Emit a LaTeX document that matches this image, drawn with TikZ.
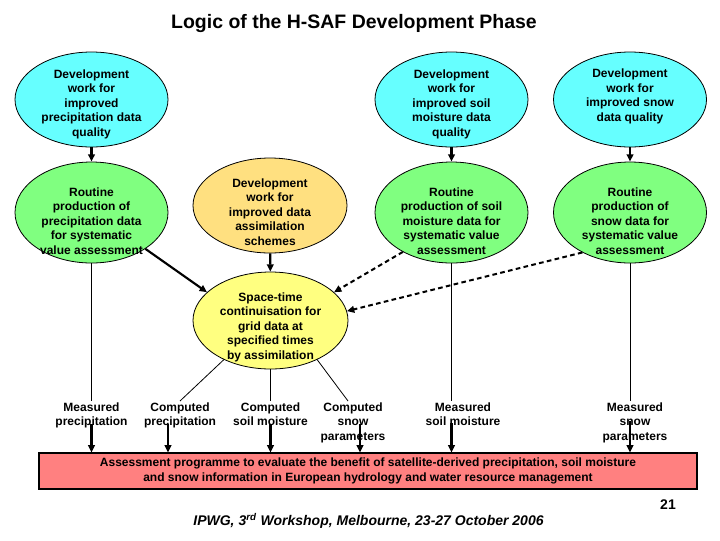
\documentclass[tikz,border=0pt]{standalone}
\usepackage{fontspec}
\setmainfont{Liberation Sans}
\usetikzlibrary{shapes.geometric,arrows.meta,calc}
\definecolor{cyanfill}{RGB}{102,255,255}
\definecolor{greenfill}{RGB}{128,255,128}
\definecolor{orangefill}{RGB}{255,224,128}
\definecolor{yellowfill}{RGB}{255,255,128}
\definecolor{salmonfill}{RGB}{255,128,128}
\begin{document}
\begin{tikzpicture}[x=0.75pt,y=-0.75pt,
  ell/.style={ellipse, draw=black, line width=0.6pt, inner sep=0pt},
  devbox/.style={ell, fill=cyanfill, minimum width=114.75pt, minimum height=71.25pt},
  routbox/.style={ell, fill=greenfill, minimum width=114.75pt, minimum height=75.75pt},
  etext/.style={align=center, font=\bfseries\fontsize{9}{10.9}\selectfont, inner sep=0pt},
  lbl/.style={align=center, anchor=north, font=\bfseries\fontsize{9}{10.9}\selectfont, inner sep=1pt},
  thickarr/.style={line width=1.6pt, -{Triangle[length=5.5pt,width=5pt]}},
  dasharr/.style={line width=1.5pt, dash pattern=on 3.5pt off 2.5pt, -{Triangle[length=5.5pt,width=5pt]}},
  thinline/.style={line width=0.6pt},
]
\useasboundingbox[fill=white] (0,0) rectangle (720,540);

% title
\node[font=\bfseries\fontsize{14.6}{17}\selectfont] (title) at (354,24) {Logic of the H-SAF Development Phase};

% development ellipses
\node[devbox, label={[etext,yshift=-3.4pt]center:{Development\\work for\\improved\\precipitation data\\quality}}] (c1) at (91.5,99.5) {};
\node[devbox, label={[etext,yshift=-3.4pt]center:{Development\\work for\\improved soil\\moisture data\\quality}}] (c2) at (451.5,99.5) {};
\node[devbox, label={[etext,yshift=2.2pt]center:{Development\\work for\\improved snow\\data quality}}] (c3) at (630,99.5) {};

% routine production ellipses
\node[routbox, label={[etext,yshift=-6.4pt]center:{Routine\\production of\\precipitation data\\for systematic\\value assessment}}] (g1) at (91.5,212.5) {};
\node[routbox, label={[etext,yshift=-6.4pt]center:{Routine\\production of soil\\moisture data for\\systematic value\\assessment}}] (g2) at (451.5,212.5) {};
\node[routbox, label={[etext,yshift=-6.4pt]center:{Routine\\production of\\snow data for\\systematic value\\assessment}}] (g3) at (630,212.5) {};

% assimilation
\node[ell, fill=orangefill, minimum width=115.5pt, minimum height=71.25pt, label={[etext,yshift=-4.9pt]center:{Development\\work for\\improved data\\assimilation\\schemes}}] (o1) at (270,205.5) {};
\node[ell, fill=yellowfill, minimum width=116.25pt, minimum height=72.75pt, label={[etext,yshift=-4.9pt]center:{Space-time\\continuisation for\\grid data at\\specified times\\by assimilation}}] (y1) at (270.5,320.5) {};

% product labels
\node[lbl] (m1) at (91.5,401) {Measured\\precipitation};
\node[lbl] (cp) at (180,401) {Computed\\precipitation};
\node[lbl] (cs) at (270.5,401) {Computed\\soil moisture};
\node[lbl] (csn) at (353,401) {Computed\\snow\\parameters};
\node[lbl] (ms) at (463,401) {Measured\\soil moisture};
\node[lbl] (msn) at (635,401) {Measured\\snow\\parameters};

% assessment box
\node[draw=black, line width=0.8pt, fill=salmonfill, minimum width=493.5pt, minimum height=27pt, inner sep=0pt, align=center, font=\bfseries\fontsize{9}{10.9}\selectfont] (A) at (368,471)
 {Assessment programme to evaluate the benefit of satellite-derived precipitation, soil moisture\\and snow information in European hydrology and water resource management};

% footer
\node[font=\bfseries\fontsize{10.5}{12}\selectfont] (pg) at (668,505) {21};
\node[font=\bfseries\itshape\fontsize{10.5}{12}\selectfont] (foot) at (368.5,521) {IPWG, 3\textsuperscript{rd} Workshop, Melbourne, 23-27 October 2006};

% arrows between ellipses
\draw[thickarr] (c1) -- (g1);
\draw[thickarr] (c2) -- (g2);
\draw[thickarr] (c3) -- (g3);
\draw[thickarr] (o1) -- (y1);
\draw[thickarr] (g1.-34) -- (y1.156);
\draw[dasharr] (g2.219.5) -- (y1.24.6);
\draw[dasharr] (g3.220.4) -- (y1.7.7);

% thin lines to product labels
\draw[thinline] (g1.south) -- (m1.north);
\draw[thinline] (y1.220) -- (cp.north);
\draw[thinline] (y1.south) -- (cs.north);
\draw[thinline] (y1.-40.2) -- ([xshift=-3.75pt]csn.north);
\draw[thinline] (g2.south) -- (g2.south |- ms.north);
\draw[thinline] (g3.south) -- (g3.south |- msn.north);

% arrows into the assessment box
\draw[thickarr] ([yshift=-17.25pt]m1.north) -- (m1.north |- A.north);
\draw[thickarr] ([xshift=-9pt,yshift=-17.25pt]cp.north) -- ([xshift=-9pt]cp.north |- A.north);
\draw[thickarr] ([yshift=-17.25pt]cs.north) -- (cs.north |- A.north);
\draw[thickarr] ([xshift=5.25pt,yshift=-17.25pt]csn.north) -- ([xshift=5.25pt]csn.north |- A.north);
\draw[thickarr] ([yshift=-16.5pt]g2.south |- ms.north) -- (g2.south |- A.north);
\draw[thickarr] ([yshift=-15pt]g3.south |- msn.north) -- (g3.south |- A.north);
\end{tikzpicture}
\end{document}
